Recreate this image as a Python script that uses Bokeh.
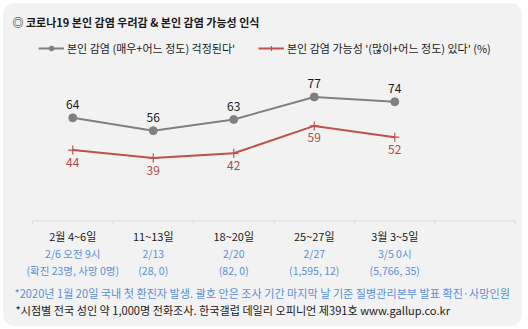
import math
from bokeh.plotting import figure
from bokeh.models import Range1d, Label, Legend, LegendItem, BoxAnnotation, ColumnDataSource
from bokeh.core.properties import value
from bokeh.embed import file_html
from bokeh.resources import INLINE

# ---- data ----
periods = ["2월 4~6일", "11~13일", "18~20일", "25~27일", "3월 3~5일"]
dates = ["2/6 오전 9시", "2/13", "2/20", "2/27", "3/5 0시"]
cases = ["(확진 23명, 사망 0명)", "(28, 0)", "(82, 0)", "(1,595, 12)", "(5,766, 35)"]
worry = [64, 56, 63, 77, 74]
possible = [44, 39, 42, 59, 52]
n_bins = len(periods) + 1  # one empty slot at the right

title_text = "◎  코로나19 본인 감염 우려감 & 본인 감염 가능성 인식"
legend_worry = "본인 감염 (매우+어느 정도) 걱정된다'"
legend_possible = "본인 감염 가능성 '(많이+어느 정도) 있다' (%)"
note1 = "*2020년 1월 20일 국내 첫 환진자 발생. 괄호 안은 조사 기간 마지막 날 기준 질병관리본부 발표 확진·사망인원"
note2 = "*시점별 전국 성인 약 1,000명 전화조사. 한국갤럽 데일리 오피니언 제391호 www.gallup.co.kr"

# ---- layout ----
W, H = 528, 329
LEFT_PX, BIN_PX = 32, 80.5
Y0_PX, PX_PER = 220.4, 1.61
FONT = "Noto Sans CJK KR"
GRAY = "#808080"
RED = "#c0504d"
RED_TXT = "#b04a47"
BLUE = "#5b8fd6"
DARK = "#1a1a1a"

p = figure(width=W, height=H, output_backend="svg", toolbar_location=None,
           x_axis_type=None, y_axis_type=None, min_border=0,
           x_range=Range1d(-LEFT_PX / BIN_PX, (W - LEFT_PX) / BIN_PX),
           y_range=Range1d(-(H - Y0_PX) / PX_PER, Y0_PX / PX_PER))
p.grid.visible = False
p.outline_line_color = None
p.background_fill_color = "white"
p.border_fill_color = "white"

p.add_layout(BoxAnnotation(left=3, right=W - 7, bottom=4, top=H - 3,
                           left_units="screen", right_units="screen",
                           top_units="screen", bottom_units="screen",
                           fill_color="#f2f2f2", fill_alpha=1.0,
                           line_color="#e8e8e8", line_width=1,
                           border_radius=10, level="underlay"))

xs = [i + 0.5 for i in range(len(periods))]
src = ColumnDataSource(dict(x=xs, worry=worry, possible=possible,
                            wl=[str(v) for v in worry], pl=[str(v) for v in possible],
                            period=periods, date=dates, case=cases, y0=[0] * len(xs)))

# baseline and ticks
p.segment(x0=0, y0=0, x1=n_bins, y1=0, line_color="#d9d9d9", line_width=1)
p.ray(x=list(range(n_bins + 1)), y=[0] * (n_bins + 1), length=3, length_units="screen",
      angle=-math.pi / 2, line_color="#d9d9d9", line_width=1)

gl = p.line("x", "worry", source=src, line_color=GRAY, line_width=2)
gs = p.scatter("x", "worry", source=src, size=8, marker="circle",
               fill_color=GRAY, line_color=GRAY)
rl = p.line("x", "possible", source=src, line_color=RED, line_width=2)
rs = p.scatter("x", "possible", source=src, size=9, marker="cross",
               line_color=RED, line_width=1.2)

p.text("x", "worry", text="wl", source=src, y_offset=-13, text_align="center",
       text_baseline="middle", text_font=value(FONT), text_font_size="12px",
       text_color=DARK)
p.text("x", "possible", text="pl", source=src, y_offset=12, text_align="center",
       text_baseline="middle", text_font=value(FONT), text_font_size="12px",
       text_color=RED_TXT)

p.text("x", "y0", text="period", source=src, y_offset=15, text_align="center",
       text_baseline="middle", text_font=value(FONT), text_font_size="11px",
       text_color=DARK)
p.text("x", "y0", text="date", source=src, y_offset=33, text_align="center",
       text_baseline="middle", text_font=value(FONT), text_font_size="10.5px",
       text_color=BLUE)
p.text("x", "y0", text="case", source=src, y_offset=50, text_align="center",
       text_baseline="middle", text_font=value(FONT), text_font_size="10.5px",
       text_color=BLUE)

p.add_layout(Label(x=12, y=H - 21.5, x_units="screen", y_units="screen", text=title_text,
                   text_font=FONT, text_font_size="11px", text_font_style="bold",
                   text_color=DARK, text_baseline="middle"))
p.add_layout(Label(x=14, y=H - 292, x_units="screen", y_units="screen", text=note1,
                   text_font=FONT, text_font_size="11.1px", text_color=BLUE,
                   text_baseline="middle"))
p.add_layout(Label(x=15, y=H - 309, x_units="screen", y_units="screen", text=note2,
                   text_font=FONT, text_font_size="11.1px", text_color=DARK,
                   text_baseline="middle"))

for label, rends, x0 in [(legend_worry, [gl, gs], 38), (legend_possible, [rl, rs], 258)]:
    lg = Legend(items=[LegendItem(label=label, renderers=rends)],
                location=(x0, H - 56), orientation="horizontal",
                padding=0, margin=0, border_line_color=None, background_fill_alpha=0,
                glyph_width=26, glyph_height=12, label_height=12, label_standoff=3,
                label_text_font=FONT, label_text_font_size="11px",
                label_text_color=DARK, label_text_baseline="middle")
    p.add_layout(lg)

open("out.html", "w").write(file_html(p, INLINE))
